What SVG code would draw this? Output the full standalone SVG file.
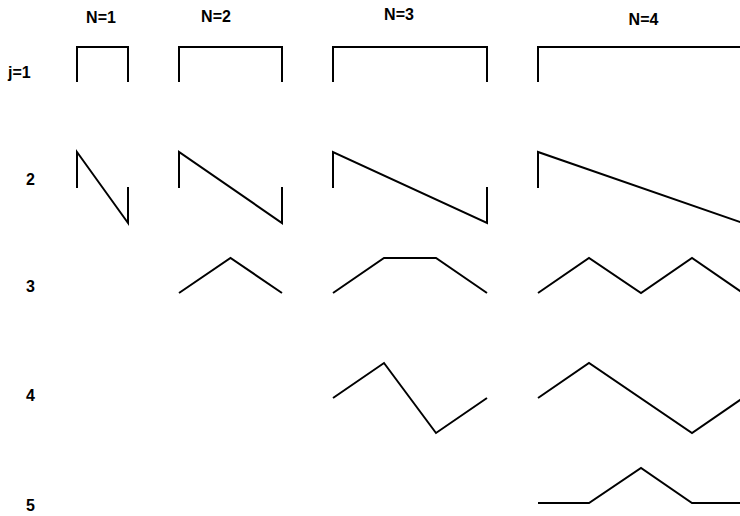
<svg xmlns="http://www.w3.org/2000/svg" width="740" height="516" viewBox="0 0 740 516">
<style>
.t{font-family:"Liberation Sans",Arial,sans-serif;font-weight:bold;font-size:16px;fill:#000}
.w{fill:none;stroke:#000;stroke-width:2;stroke-linejoin:miter}
</style>
<rect width="740" height="516" fill="#fff"/>
<g id="headers">
<text class="t" x="101" y="22.5" text-anchor="middle">N=1</text>
<text class="t" x="216" y="21.5" text-anchor="middle">N=2</text>
<text class="t" x="399" y="19.5" text-anchor="middle">N=3</text>
<text class="t" x="643.5" y="25" text-anchor="middle">N=4</text>
</g>
<g id="rowlabels">
<text class="t" x="8" y="78">j=1</text>
<text class="t" x="26" y="185">2</text>
<text class="t" x="26" y="292">3</text>
<text class="t" x="26" y="401">4</text>
<text class="t" x="26" y="511">5</text>
</g>
<g id="waves">
<g id="row1">
<polyline class="w" points="77,82 77,47 128,47 128,82"/>
<polyline class="w" points="179,82 179,47 282,47 282,82"/>
<polyline class="w" points="333,82 333,47 487,47 487,82"/>
<polyline class="w" points="538,82 538,47 743,47"/>
</g>
<g id="row2">
<polyline class="w" points="77,188 77,152 128,223 128,187"/>
<polyline class="w" points="179,188 179,152 282,223 282,187"/>
<polyline class="w" points="333,188 333,152 487,223 487,187"/>
<polyline class="w" points="538,188 538,152 743,223"/>
</g>
<g id="row3">
<polyline class="w" points="179,293 230.5,258 282,293"/>
<polyline class="w" points="333,293 384,258 436,258 487,293"/>
<polyline class="w" points="538,293 589,258 641,293 692,258 743,293"/>
</g>
<g id="row4">
<polyline class="w" points="333,398 384,363 436,433 487,398"/>
<polyline class="w" points="538,398 589,363 692,433 743,398"/>
</g>
<g id="row5">
<polyline class="w" points="538,503 589,503 641,468 692,503 743,503"/>
</g>
</g>
</svg>
